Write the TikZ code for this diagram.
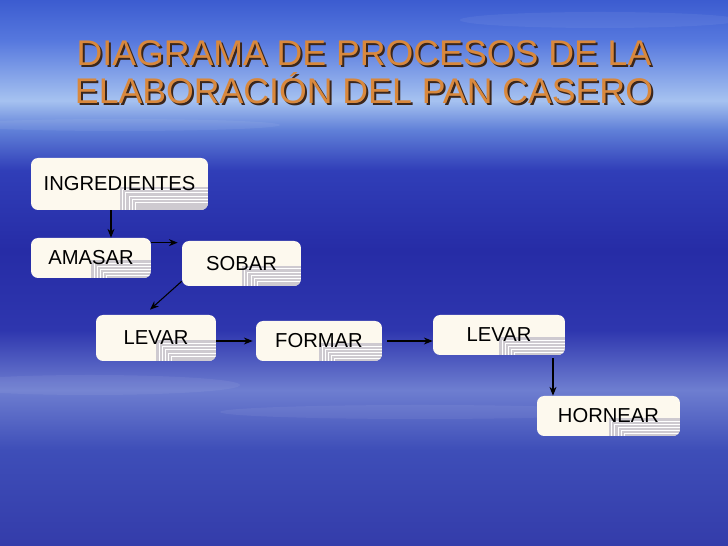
\documentclass[tikz,border=0pt]{standalone}
\usepackage{fontspec}
\setmainfont{Liberation Sans}
\usetikzlibrary{arrows.meta, calc}

\definecolor{boxcream}{RGB}{253,249,238}
\definecolor{cornergray}{RGB}{206,202,208}
\definecolor{titleorange}{RGB}{217,136,60}
\definecolor{titleshadow}{RGB}{58,38,28}

% sky behind the slide, top of picture = 75bp, bottom = 25bp
\pgfdeclareverticalshading{skyshade}{100bp}{
  color(0bp)=(rgb,255:red,52;green,60;blue,170);
  color(25bp)=(rgb,255:red,52;green,60;blue,170);
  color(33.8bp)=(rgb,255:red,62;green,78;blue,184);
  color(39.3bp)=(rgb,255:red,110;green,126;blue,208);
  color(44.8bp)=(rgb,255:red,46;green,54;blue,174);
  color(52.1bp)=(rgb,255:red,38;green,44;blue,166);
  color(59.4bp)=(rgb,255:red,48;green,62;blue,184);
  color(63.1bp)=(rgb,255:red,96;green,128;blue,216);
  color(65.8bp)=(rgb,255:red,166;green,194;blue,240);
  color(71.3bp)=(rgb,255:red,86;green,120;blue,222);
  color(75bp)=(rgb,255:red,60;green,92;blue,208);
  color(100bp)=(rgb,255:red,60;green,92;blue,208)}

\tikzset{
  pasobox/.style={fill=boxcream, rounded corners=0.14cm, inner sep=0pt,
    font=\fontsize{11.5}{13}\selectfont,
    path picture={
      \fill[cornergray, sharp corners] let \p1=(path picture bounding box.south west),
        \p2=(path picture bounding box.north east) in
        (\x1/2+\x2/2, \y1) rectangle (\x2, \y1*0.55+\y2*0.45);
      \foreach \k in {1,...,5}
        \draw[white, line width=0.5pt, sharp corners] let \p1=(path picture bounding box.south west),
          \p2=(path picture bounding box.north east) in
          (\x1/2+\x2/2+\k*1.8pt, \y1) |- (\x2, \y1*0.55+\y2*0.45-\k*1.8pt);
    }},
  flecha/.style={line width=0.6pt, -{Stealth[length=5pt, width=4pt]}},
  titulo/.style={font=\fontsize{20.3}{21.5}\selectfont, align=center}
}

\begin{document}
\begin{tikzpicture}[x=0.02cm, y=-0.02cm]
\useasboundingbox (0,0) rectangle (728,546);
\shade[shading=skyshade] (0,0) rectangle (728,546);

% faint cloud streaks
\foreach \cx/\cy/\rx/\ry in {600/20/140/8, 120/125/160/6, 90/385/150/10, 420/412/200/7}
  \fill[white, opacity=0.06] (\cx,\cy) ellipse ({\rx*0.02cm} and {\ry*0.02cm});

% title with its shadow
\node[titulo, text=titleshadow] (sombra) at (366,74.5) {DIAGRAMA DE PROCESOS DE LA\\ELABORACIÓN DEL PAN CASERO};
\node[titulo, text=titleorange] (titulo) at (364,72.5) {DIAGRAMA DE PROCESOS DE LA\\ELABORACIÓN DEL PAN CASERO};

% steps
\node[pasobox, minimum width=3.54cm, minimum height=1.04cm] (ingredientes) at (119.5,184) {INGREDIENTES};
\node[pasobox, minimum width=2.4cm, minimum height=0.8cm] (amasar) at (91,258) {AMASAR};
\node[pasobox, minimum width=2.38cm, minimum height=0.9cm] (sobar) at (241.5,263.5) {SOBAR};
\node[pasobox, minimum width=2.4cm, minimum height=0.92cm] (levarA) at (156,338) {LEVAR};
\node[pasobox, minimum width=2.52cm, minimum height=0.8cm] (formar) at (319,341) {FORMAR};
\node[pasobox, minimum width=2.64cm, minimum height=0.8cm] (levarB) at (499,335) {LEVAR};
\node[pasobox, minimum width=2.86cm, minimum height=0.8cm] (hornear) at (608.5,416) {HORNEAR};

% connectors
\draw[flecha] ([xshift=-0.17cm]ingredientes.south) -- ([xshift=-0.17cm]ingredientes.south |- amasar.north);
\draw[flecha, shorten >=0.08cm] ([yshift=-0.1cm]amasar.north east) -- ([yshift=-0.1cm]amasar.north east -| sobar.west);
\draw[flecha] ([yshift=0.1cm]sobar.south west) -- ([xshift=-0.12cm, yshift=0.1cm]levarA.north);
\draw[flecha, shorten >=0.06cm] (levarA.east |- formar.west) -- (formar.west);
\draw[flecha] ([xshift=0.1cm]formar.east) -- (formar.east -| levarB.west);
\draw[flecha] ([xshift=1.08cm, yshift=-0.06cm]levarB.south) -- ([xshift=1.08cm]levarB.south |- hornear.north);
\end{tikzpicture}
\end{document}
